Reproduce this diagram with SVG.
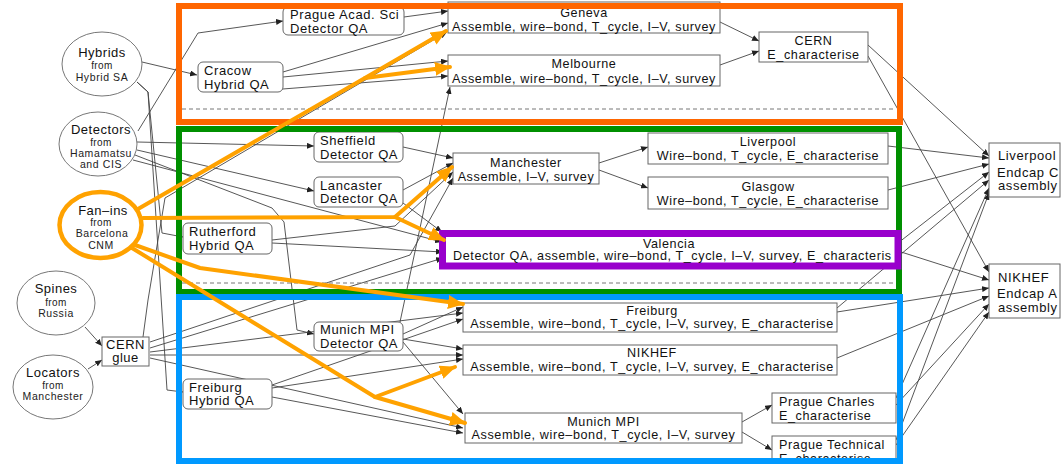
<svg xmlns="http://www.w3.org/2000/svg" width="1062" height="464" viewBox="0 0 1062 464">
<defs>
<marker id="ah" markerUnits="userSpaceOnUse" markerWidth="8" markerHeight="6" refX="7" refY="3" orient="auto"><path d="M0,0 L7,3 L0,6 z" fill="#222"/></marker>
<marker id="oh" markerUnits="userSpaceOnUse" markerWidth="18" markerHeight="14" refX="15" refY="7" orient="auto"><path d="M0,0 L16,7 L0,14 z" fill="#FFA200"/></marker>
<style>
.bx{fill:#fff;stroke:#666;stroke-width:1}
.el{fill:#fff;stroke:#777;stroke-width:1}
.t{font-family:"Liberation Sans",Arial,sans-serif;font-size:12.6px;letter-spacing:0.6px;fill:#111}
.c{text-anchor:middle}
.q{font-family:"Liberation Sans",Arial,sans-serif;font-size:13px;letter-spacing:0.6px;fill:#111}
.h{font-family:"Liberation Sans",Arial,sans-serif;font-size:13px;letter-spacing:0.5px;fill:#111;text-anchor:middle}
.s{font-family:"Liberation Sans",Arial,sans-serif;font-size:10.5px;letter-spacing:0.6px;fill:#222;text-anchor:middle}
.f{font-family:"Liberation Sans",Arial,sans-serif;font-size:10px;letter-spacing:0.4px;fill:#222;text-anchor:middle}
.cn path{fill:none;stroke:#444;stroke-width:0.9;marker-end:url(#ah)}
.fr{fill:none;stroke-width:6}
.ds{stroke:#777;stroke-width:1;stroke-dasharray:4,3}
.or path{fill:none;stroke:#FFA200;stroke-width:4;stroke-linejoin:round;stroke-linecap:round}
.or path.a{marker-end:url(#oh)}
</style>
</defs>
<rect width="1062" height="464" fill="#fff"/>

<g id="connectors" class="cn">
<path d="M142,62 L197,75"/>
<path d="M137,82 L148,92 L162,233 L183,237"/>
<path d="M137,82 L148,92 L167,390 L183,392"/>
<path d="M138,131 L198,33 L283,21"/>
<path d="M137,142 L314,146"/>
<path d="M137,150 L314,191"/>
<path d="M135,155 L272,208 L284,222 L297,330 L314,334"/>
<path d="M133,160 L442,242"/>
<path d="M85,327 L102,346"/>
<path d="M88,369 L102,360"/>
<path d="M404,17 L448,11"/>
<path d="M283,72 L448,23"/>
<path d="M283,77 L448,61"/>
<path d="M270,90 L448,76"/>
<path d="M400,322 L450,87"/>
<path d="M143,337 L148,300 L165,198 L447,32"/>
<path d="M720,22 L759,41"/>
<path d="M720,65 L759,51"/>
<path d="M403,147 L453,158"/>
<path d="M403,190 L453,163"/>
<path d="M272,240 L395,226 L453,172"/>
<path d="M272,243 L443,252"/>
<path d="M150,342 L410,255 L453,178"/>
<path d="M150,348 L443,258"/>
<path d="M403,203 L442,232"/>
<path d="M599,163 L648,147"/>
<path d="M599,170 L648,188"/>
<path d="M403,334 L463,307"/>
<path d="M403,339 L463,349"/>
<path d="M403,342 L463,414"/>
<path d="M150,352 L463,313"/>
<path d="M150,355 L463,355"/>
<path d="M150,358 L463,428"/>
<path d="M272,385 L463,319"/>
<path d="M272,388 L463,359"/>
<path d="M272,397 L463,433"/>
<path d="M868,45 L989,156"/>
<path d="M868,56 L989,272"/>
<path d="M888,146 L989,158"/>
<path d="M888,190 L989,164"/>
<path d="M898,243 L989,172"/>
<path d="M898,251 L989,280"/>
<path d="M837,308 L989,180"/>
<path d="M837,312 L989,288"/>
<path d="M837,358 L989,296"/>
<path d="M742,422 L772,405"/>
<path d="M742,432 L772,450"/>
<path d="M896,405 L989,304"/>
<path d="M896,398 L989,188"/>
<path d="M896,445 L989,312"/>
<path d="M896,440 L989,193"/>
</g>

<g id="hybrids"><ellipse class="el" cx="102" cy="64" rx="40" ry="32"/><text class="h" x="102" y="57">Hybrids</text><text class="f" x="102" y="69">from</text><text class="s" x="102" y="81">Hybrid SA</text></g>
<g id="detectors"><ellipse class="el" cx="98" cy="144" rx="39" ry="32"/><text class="h" x="101" y="134">Detectors</text><text class="f" x="101" y="146">from</text><text class="s" x="101" y="157">Hamamatsu</text><text class="s" x="101" y="168">and CIS</text></g>
<g id="fanins"><ellipse cx="100.5" cy="225" rx="41" ry="33" fill="#fff" stroke="#FFA200" stroke-width="4.5"/><text class="h" x="103" y="215">Fan–ins</text><text class="f" x="101" y="226">from</text><text class="s" x="102" y="237">Barcelona</text><text class="s" x="101" y="249">CNM</text></g>
<g id="spines"><ellipse class="el" cx="56" cy="303" rx="39" ry="32"/><text class="h" x="56" y="293">Spines</text><text class="f" x="56" y="306">from</text><text class="s" x="56" y="317">Russia</text></g>
<g id="locators"><ellipse class="el" cx="53" cy="387" rx="40" ry="32"/><text class="h" x="53" y="377">Locators</text><text class="f" x="53" y="389">from</text><text class="s" x="53" y="400">Manchester</text></g>
<g id="cern_glue"><rect class="bx" x="102" y="337" width="47" height="29"/><text class="h" x="125.5" y="348.5">CERN</text><text class="h" x="125.5" y="361.5">glue</text></g>

<g id="prague_acad"><rect class="bx" x="283" y="7" width="121" height="28" rx="5"/><text class="q" x="290" y="19">Prague Acad. Sci</text><text class="q" x="290" y="32.5">Detector QA</text></g>
<g id="cracow"><rect class="bx" x="198" y="62" width="85" height="30" rx="5"/><text class="q" x="204" y="75">Cracow</text><text class="q" x="204" y="88.5">Hybrid QA</text></g>
<g id="sheffield"><rect class="bx" x="314" y="132" width="89" height="30" rx="5"/><text class="q" x="320" y="145">Sheffield</text><text class="q" x="320" y="158.5">Detector QA</text></g>
<g id="lancaster"><rect class="bx" x="314" y="177" width="89" height="30" rx="5"/><text class="q" x="320" y="190">Lancaster</text><text class="q" x="320" y="203">Detector QA</text></g>
<g id="rutherford"><rect class="bx" x="183" y="223" width="89" height="31" rx="5"/><text class="q" x="189" y="236">Rutherford</text><text class="q" x="189" y="249.5">Hybrid QA</text></g>
<g id="munich_det"><rect class="bx" x="314" y="322" width="89" height="29" rx="5"/><text class="q" x="320" y="334">Munich MPI</text><text class="q" x="320" y="347.5">Detector QA</text></g>
<g id="freiburg_hyb"><rect class="bx" x="183" y="379" width="89" height="30" rx="5"/><text class="q" x="189" y="392">Freiburg</text><text class="q" x="189" y="405">Hybrid QA</text></g>

<g id="geneva"><rect class="bx" x="448" y="2" width="272" height="31"/><text class="t c" x="584" y="16.5">Geneva</text><text class="t c" x="584" y="31">Assemble, wire–bond, T_cycle, I–V, survey</text></g>
<g id="melbourne"><rect class="bx" x="448" y="55" width="272" height="31"/><text class="t c" x="584" y="68">Melbourne</text><text class="t c" x="584" y="83">Assemble, wire–bond, T_cycle, I–V, survey</text></g>
<g id="cern_e"><rect class="bx" x="759" y="32" width="109" height="30"/><text class="t c" x="813.5" y="45">CERN</text><text class="t c" x="813.5" y="58.5">E_characterise</text></g>
<g id="manchester"><rect class="bx" x="453" y="153" width="146" height="31"/><text class="t c" x="526" y="167">Manchester</text><text class="t c" x="526" y="180.5">Assemble, I–V, survey</text></g>
<g id="liverpool"><rect class="bx" x="648" y="133" width="240" height="31"/><text class="t c" x="768" y="145.5">Liverpool</text><text class="t c" x="768" y="159.5">Wire–bond, T_cycle, E_characterise</text></g>
<g id="glasgow"><rect class="bx" x="648" y="177" width="240" height="32"/><text class="t c" x="768" y="190.5">Glasgow</text><text class="t c" x="768" y="204.5">Wire–bond, T_cycle, E_characterise</text></g>
<g id="freiburg"><rect class="bx" x="463" y="303" width="374" height="29"/><text class="t c" x="652" y="315">Freiburg</text><text class="t c" x="652" y="327.5">Assemble, wire–bond, T_cycle, I–V, survey, E_characterise</text></g>
<g id="nikhef"><rect class="bx" x="463" y="345" width="374" height="30"/><text class="t c" x="652" y="357">NIKHEF</text><text class="t c" x="652" y="370.5">Assemble, wire–bond, T_cycle, I–V, survey, E_characterise</text></g>
<g id="munich"><rect class="bx" x="465" y="413" width="277" height="30"/><text class="t c" x="603.5" y="426">Munich MPI</text><text class="t c" x="603.5" y="439">Assemble, wire–bond, T_cycle, I–V, survey</text></g>
<g id="prague_charles"><rect class="bx" x="772" y="393" width="124" height="30"/><text class="t" x="779" y="406">Prague Charles</text><text class="t" x="779" y="419.5">E_characterise</text></g>
<g id="prague_tech"><rect class="bx" x="772" y="436" width="124" height="34"/><text class="t" x="779" y="449">Prague Technical</text><text class="t" x="779" y="462.5">E_characterise</text></g>
<g id="liverpool_ec"><rect class="bx" x="989" y="143" width="71" height="54"/><text class="q" x="998" y="159.5">Liverpool</text><text class="q" x="997" y="177">Endcap C</text><text class="q" x="998" y="190">assembly</text></g>
<g id="nikhef_ec"><rect class="bx" x="989" y="264" width="71" height="54"/><text class="q" x="998" y="281.5">NIKHEF</text><text class="q" x="997" y="298">Endcap A</text><text class="q" x="998" y="311.5">assembly</text></g>

<g id="frames">
<line class="ds" x1="182" y1="109" x2="893" y2="109"/>
<line class="ds" x1="182" y1="283" x2="893" y2="283"/>
<rect class="fr" x="179" y="129" width="720" height="163" stroke="#009000"/>
<rect class="fr" x="179" y="297" width="721" height="164" stroke="#0099FF"/>
<rect class="fr" x="179" y="6" width="721" height="116" stroke="#FF6600"/>
</g>

<g id="valencia"><rect x="442.5" y="233.5" width="455.5" height="32.5" fill="#fff" stroke="#9900CC" stroke-width="7"/><text class="t c" x="669" y="247.5">Valencia</text><text class="t" x="453" y="259.5">Detector QA, assemble, wire–bond, T_cycle, I–V, survey, E_characteris</text></g>

<g id="fanin_arrows" class="or">
<path d="M138,209 L365,78 L446,31" class="a"/>
<path d="M365,78 L450,67" class="a"/>
<path d="M143,218 L395,217 L452,167" class="a"/>
<path d="M395,217 L444,240" class="a"/>
<path d="M135,245 L200,268 L463,304" class="a"/>
<path d="M132,248 L375,397 L465,423" class="a"/>
<path d="M375,397 L455,367" class="a"/>
</g>
</svg>
